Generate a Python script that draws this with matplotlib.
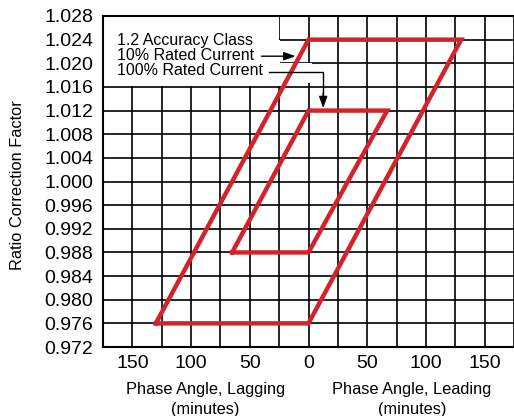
import numpy as np
import matplotlib.pyplot as plt
from matplotlib.patches import Rectangle

plt.rcParams['font.family'] = ['Liberation Sans', 'DejaVu Sans']

# parallelogram corners (phase angle in minutes, ratio correction factor)
outer_x = [-130, 0, 130, 0, -130]
outer_y = [0.976, 1.024, 1.024, 0.976, 0.976]
inner_x = [-65, 0, 67, 0, -65]
inner_y = [0.988, 1.012, 1.012, 0.988, 0.988]

x_ticks = [-150, -100, -50, 0, 50, 100, 150]
x_labels = ['150', '100', '50', '0', '50', '100', '150']
y_ticks = np.round(np.arange(0.972, 1.0281, 0.004), 3)

legend_lines = ['1.2 Accuracy Class', '10% Rated Current', '100% Rated Current']

red = '#d2232a'

fig = plt.figure(figsize=(5.14, 4.16), dpi=100)
ax = fig.add_axes([103 / 514, 1 - 347 / 416, 1 - 103 / 514, (347 - 16) / 416])
ax.set_xlim(-175, 167.5)
ax.set_ylim(0.972, 1.028)

ax.set_xticks(x_ticks)
ax.set_xticklabels(x_labels)
ax.set_xticks(np.arange(-175, 176, 25), minor=True)
ax.set_yticks(y_ticks)
ax.set_yticklabels(['%.3f' % v for v in y_ticks])
ax.tick_params(which='both', length=0, labelsize=14, colors='black')
ax.tick_params(axis='y', pad=7)
ax.tick_params(axis='x', pad=6)
ax.set_axisbelow(True)
ax.grid(True, which='both', color='black', lw=1.2)
ax.spines['right'].set_visible(False)
for s in ['left', 'bottom', 'top']:
    ax.spines[s].set_linewidth(1.5)

# white label area
ax.add_patch(Rectangle((-176, 1.024), 150.5, 0.005, fc='white', ec='none', zorder=1))
ax.add_patch(Rectangle((-176, 1.0162), 151.6, 0.0078, fc='white', ec='none', zorder=1))
ax.add_patch(Rectangle((-26, 1.0167), 29, 0.0033, fc='white', ec='none', zorder=1))

ax.plot(outer_x, outer_y, color=red, lw=3.2, solid_joinstyle='miter', zorder=3)
ax.plot(inner_x, inner_y, color=red, lw=3.2, solid_joinstyle='miter', zorder=3)

for t, yy in zip(legend_lines, [1.0239, 1.0213, 1.0187]):
    ax.text(-163, yy, t, fontsize=11.5, va='center', ha='left', zorder=5)

ax.annotate('', xy=(-11, 1.0212), xytext=(-40, 1.0212),
            arrowprops=dict(arrowstyle='-|>,head_length=0.7,head_width=0.25',
                            color='black', lw=1, shrinkA=0, shrinkB=0), zorder=5)
ax.plot([-34, 12.5, 12.5], [1.0186, 1.0186, 1.0145], color='black', lw=1, zorder=5)
ax.annotate('', xy=(12.5, 1.0124), xytext=(12.5, 1.0150),
            arrowprops=dict(arrowstyle='-|>,head_length=0.7,head_width=0.25',
                            color='black', lw=1, shrinkA=0, shrinkB=0), zorder=5)

ax.text(-88, -0.106, 'Phase Angle, Lagging\n(minutes)', transform=ax.get_xaxis_transform(),
        ha='center', va='top', fontsize=11.8, linespacing=1.4)
ax.text(88, -0.106, 'Phase Angle, Leading\n(minutes)', transform=ax.get_xaxis_transform(),
        ha='center', va='top', fontsize=11.8, linespacing=1.4)
fig.text(17.5 / 514, 1 - 185 / 416, 'Ratio Correction Factor', rotation=90,
         ha='center', va='center', fontsize=11.8)

fig.savefig('out.png', dpi=100)
